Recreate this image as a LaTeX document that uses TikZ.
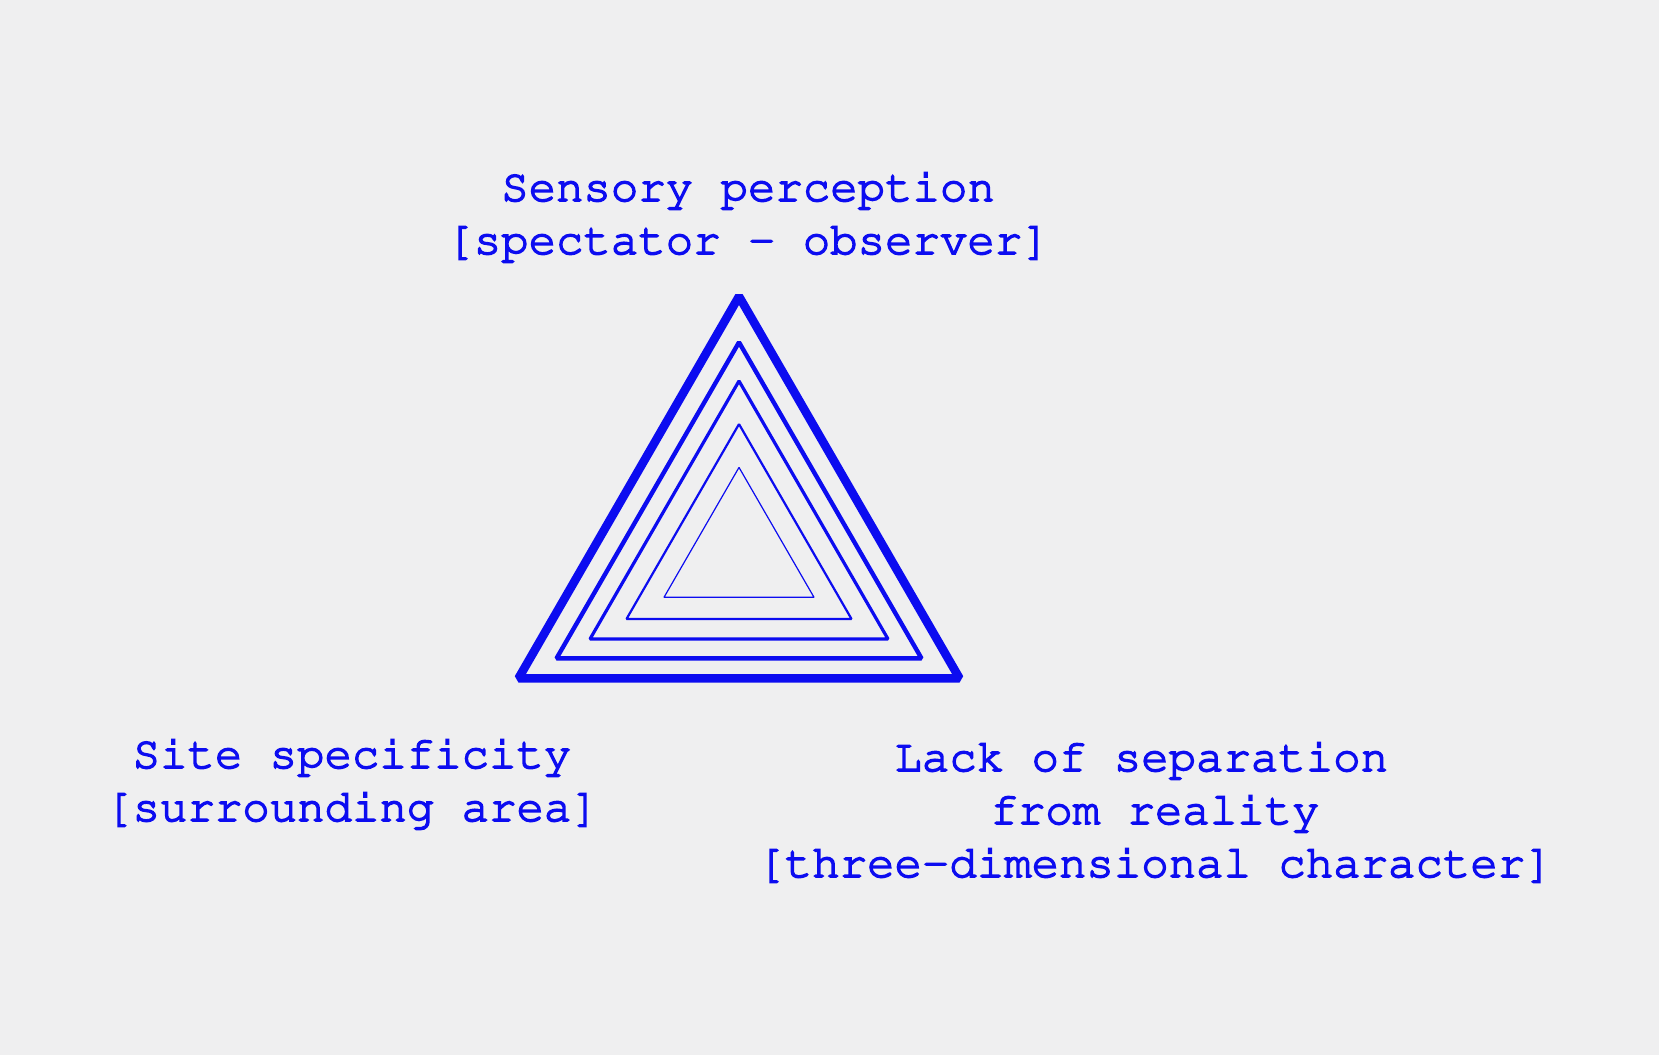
\documentclass[tikz,border=0pt]{standalone}
\usepackage[T1]{fontenc}
\usepackage{courier}
\definecolor{bg}{RGB}{239,239,240}
\definecolor{ink}{RGB}{12,12,240}
\newcommand{\heavytext}{\special{pdf:literal direct 2 Tr 1.5 w}}
\begin{document}
\begin{tikzpicture}[x=1pt,y=-1pt,
  lbl/.style={text=ink, font=\fontfamily{pcr}\fontsize{45.7}{53}\selectfont, align=center, anchor=base, inner sep=0pt},
  tri/.style={draw=ink, line join=bevel}]
\fill[bg] (0,0) rectangle (1659,1055);
\useasboundingbox (0,0) rectangle (1659,1055);
\foreach \s/\c/\w in {441/551/8.6, 365/553/4.4, 298/553/3.2, 225/554/2.2, 150/554/1.2} {
  \draw[tri, line width=\w pt] (739,{\c-\s/sqrt(3)}) -- ({739+\s/2},{\c+\s/(2*sqrt(3))}) -- ({739-\s/2},{\c+\s/(2*sqrt(3))}) -- cycle;
}
\node[lbl] (sensory) at (748,254) {\heavytext Sensory perception\\{[}spectator - observer{]}};
\node[lbl] (site) at (352,821) {\heavytext Site specificity\\{[}surrounding area{]}};
\node[lbl] (lack) at (1155,877) {\heavytext Lack of separation\phantom{x}\\from reality\\{[}three-dimensional character{]}};
\end{tikzpicture}
\end{document}
